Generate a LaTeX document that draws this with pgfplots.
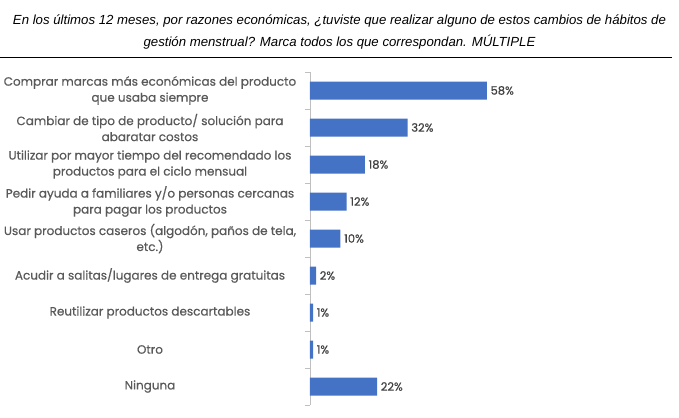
\documentclass[border=0pt]{standalone}
\usepackage{pgfplots}
\pgfplotsset{compat=1.18}
\usepackage{fontspec}
\setmainfont{Liberation Sans}
\newfontfamily\labfont[FakeBold=0.6]{Poppins}
\definecolor{barblue}{HTML}{4472C4}
\definecolor{labgray}{HTML}{595959}
\definecolor{numgray}{HTML}{404040}
\definecolor{axgray}{HTML}{BFBFBF}
\begin{document}
\begin{tikzpicture}
\begin{axis}[
  at={(0,0)}, anchor=south west,
  scale only axis, width=305bp, height=333bp,
  xbar, bar width=18bp,
  xmin=0, xmax=100, ymin=-0.5, ymax=8.5, y dir=reverse,
  axis x line=none, axis y line=left,
  axis line style={-, draw=axgray},
  xtick=\empty,
  ytick={0,1,2,3,4,5,6,7,8},
  minor ytick={-0.5,0.5,1.5,2.5,3.5,4.5,5.5,6.5,7.5,8.5},
  major tick length=0pt, minor tick length=5bp, tick align=outside,
  tick style={draw=axgray},
  yticklabels={{Comprar marcas más económicas del producto\\que usaba siempre},
    {Cambiar de tipo de producto/ solución para\\abaratar costos},
    {Utilizar por mayor tiempo del recomendado los\\productos para el ciclo mensual},
    {Pedir ayuda a familiares y/o personas cercanas\\para pagar los productos},
    {Usar productos caseros (algodón, paños de tela,\\etc.)},
    {Acudir a salitas/lugares de entrega gratuitas},
    {Reutilizar productos descartables},
    {Otro},
    {Ninguna}},
  yticklabel style={anchor=center, xshift=-160bp, align=center,
    font=\labfont\fontsize{12bp}{16bp}\selectfont, text=labgray},
  nodes near coords={\pgfmathprintnumber[assume math mode=true]{\pgfplotspointmeta}\%},
  nodes near coords style={anchor=west, inner sep=3.5bp, font=\labfont\fontsize{11.5bp}{12bp}\selectfont, text=numgray},
  point meta=explicit,
  clip=false,
]
\addplot[fill=barblue, draw=none] coordinates {
  (58,0) [58] (32,1) [32] (18,2) [18] (12,3) [12] (10,4) [10]
  (2,5) [2] (1,6) [1] (1,7) [1] (22,8) [22]};
\end{axis}
\node[font=\itshape\fontsize{13.2bp}{15bp}\selectfont] at (29.5bp,384bp) {En los últimos 12 meses, por razones económicas, ¿tuviste que realizar alguno de estos cambios de hábitos de};
\node[font=\itshape\fontsize{13.2bp}{15bp}\selectfont] at (29.5bp,363bp) {gestión menstrual? Marca todos los que correspondan. MÚLTIPLE};
\draw[black, line width=1bp] (-310bp,347bp) -- (362bp,347bp);
\pgfresetboundingbox
\path[use as bounding box] (-310bp,-13bp) rectangle (369bp,405bp);
\end{tikzpicture}
\end{document}
